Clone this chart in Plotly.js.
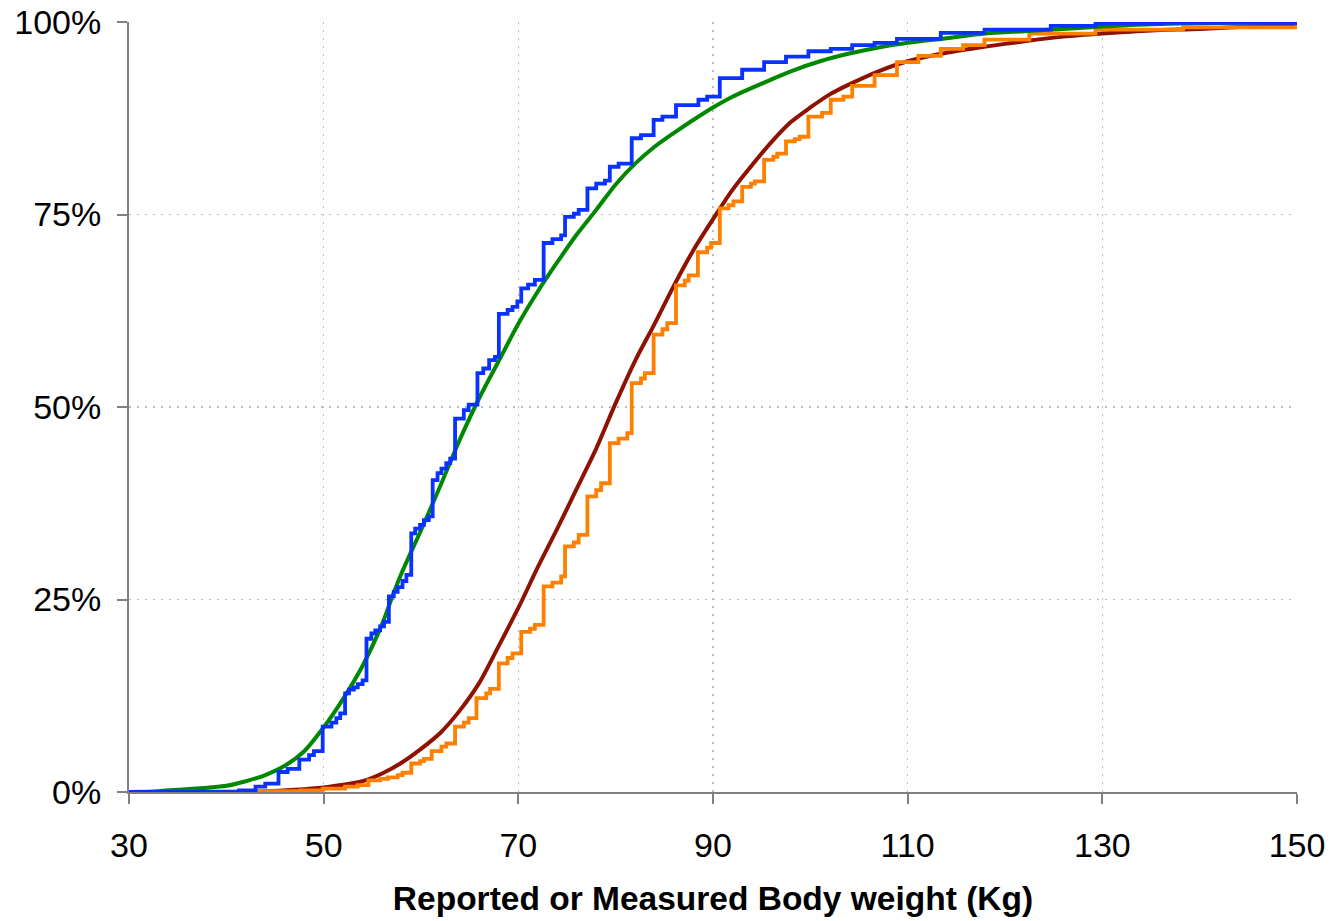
<!DOCTYPE html>
<html>
<head>
<meta charset="utf-8">
<script src="https://cdn.plot.ly/plotly-3.0.1.min.js"></script>
<style>html,body{margin:0;padding:0;background:#fff;}#chart{width:1332px;height:921px;}</style>
</head>
<body>
<div id="chart"></div>
<script>
// Female, measured (smooth, green)
const femaleMeasuredX = [30,33,35,38,40,42,44,46,48,50,52,54,56,57,58,60,62,64,66,68,70,72,74,76,78,80,82,84,86,88,90,92,95,98,101,104,107,110,114,118,122,126,130,135,140,150];
const femaleMeasuredY = [0,0.1,0.3,0.55,0.8,1.4,2.2,3.4,5.3,8.4,12.1,16.4,21.8,25.2,28.4,34.0,39.8,45.8,51.2,56.0,60.8,65.0,68.8,72.4,75.6,78.9,81.6,83.8,85.6,87.3,88.9,90.3,92.0,93.6,94.9,95.9,96.7,97.3,97.9,98.5,98.8,99.1,99.4,99.7,99.85,100];

// Female, reported (stepped, blue)
const femaleReportedX = [30,38,41.3,43.0,44.0,45.36,46.3,47.5,48.5,49.0,49.9,50.8,51.3,51.7,52.2,52.6,53.1,53.5,54.0,54.4,54.9,55.3,55.8,56.2,56.7,57.2,57.6,58.1,58.5,59.0,59.4,59.9,60.3,60.8,61.2,61.7,62.1,62.6,63.0,63.5,64.4,64.9,65.8,66.4,67.0,67.6,68.0,68.9,69.4,69.9,70.3,71.0,71.7,72.6,73.5,74.4,74.8,75.7,76.2,77.1,78.0,78.9,79.4,80.3,81.65,82.6,83.9,84.8,86.2,88.5,89.4,90.7,93.0,95.25,97.5,99.8,102.1,104.3,106.6,108.9,113.4,117.9,124.7,129.3,136.1,150];
const femaleReportedY = [0,0.05,0.2,0.7,1.1,2.6,3.0,4.2,4.8,5.3,8.5,9.0,9.6,10.2,12.8,13.3,13.6,14.0,14.5,19.9,20.6,21.0,21.5,22.1,25.4,26.0,26.6,27.4,28.2,33.6,34.2,34.7,35.3,35.8,40.5,41.4,42.0,42.7,43.3,48.5,49.6,50.3,54.4,55.0,56.1,56.5,62.1,62.6,63.0,63.7,65.4,65.9,66.5,71.3,71.8,72.3,74.7,75.1,75.6,78.4,79.0,79.4,81.2,81.6,84.9,85.3,87.3,87.7,89.2,89.9,90.3,92.7,93.8,94.8,95.5,96.2,96.5,97.0,97.3,97.8,98.6,99.0,99.5,99.8,99.9,99.9];

// Male, measured (smooth, dark red)
const maleMeasuredX = [30,40,44,47,50,52,54,56,58,60,62,64,66,68,70,72,74,76,78,80,82,84,86,88,90,92,94,96,98,100,102,104,107,110,114,118,122,126,130,135,140,145,150];
const maleMeasuredY = [0,0,0.1,0.3,0.6,0.95,1.4,2.4,3.8,5.6,7.7,10.6,14.2,19.0,23.9,29.2,34.2,39.4,44.6,50.5,56.0,60.8,65.8,70.4,74.4,78.2,81.4,84.4,87.0,88.9,90.6,91.9,93.6,94.9,96.0,96.8,97.5,98.1,98.5,98.9,99.1,99.4,99.6];

// Male, reported (stepped, orange)
const maleReportedX = [30,43.1,47.6,49.9,52.2,53.5,54.6,55.8,56.6,57.6,58.1,59.0,59.9,60.3,61.1,62.1,62.6,63.5,64.4,64.9,65.7,66.7,67.1,68.0,68.9,69.4,70.3,71.2,71.7,72.6,73.5,74.4,74.8,75.7,76.2,77.1,78.0,78.5,79.4,80.3,81.2,81.65,82.6,83.0,83.9,84.8,85.3,86.2,87.1,87.5,88.45,89.4,89.8,90.7,91.6,92.1,93.0,93.9,94.3,95.25,96.2,96.6,97.5,98.4,98.9,99.8,101.2,102.1,103.4,104.3,106.6,108.9,111.1,113.4,115.7,117.9,122.5,129.3,138.3,150];
const maleReportedY = [0,0.1,0.2,0.45,0.7,0.9,1.5,1.7,1.9,2.2,2.5,3.7,4.0,4.3,5.3,5.9,6.3,8.5,9.0,9.6,12.2,12.8,13.4,16.7,17.4,18.0,20.8,21.2,21.7,26.7,27.2,28.0,31.9,32.4,33.4,38.4,39.2,40.1,45.3,45.9,46.6,53.1,53.7,54.4,59.4,60.1,60.9,65.8,66.4,67.1,70.1,70.7,71.3,75.8,76.2,76.7,78.6,79.0,79.3,82.1,82.5,82.9,84.5,84.8,85.1,87.7,88.2,89.9,90.3,91.7,93.1,94.8,95.6,96.5,97.0,97.7,98.5,99.0,99.3,99.6];

const xTicks = [30,50,70,90,110,130,150];
const yTicks = [0,25,50,75,100];
const yTickText = ['0%','25%','50%','75%','100%'];

const traces = [
  {x: maleMeasuredX, y: maleMeasuredY, mode: 'lines', line: {color: '#8f1200', width: 4, shape: 'spline', smoothing: 0.8}, name: 'Male measured'},
  {x: maleReportedX, y: maleReportedY, mode: 'lines', line: {color: '#ff8000', width: 3.8, shape: 'hv'}, name: 'Male reported'},
  {x: femaleMeasuredX, y: femaleMeasuredY, mode: 'lines', line: {color: '#008800', width: 4, shape: 'spline', smoothing: 0.8}, name: 'Female measured'},
  {x: femaleReportedX, y: femaleReportedY, mode: 'lines', line: {color: '#0a32ff', width: 3.8, shape: 'hv'}, name: 'Female reported'}
];

const font = 'Liberation Sans, Arial, sans-serif';
const axisCommon = {
  ticks: 'outside', ticklen: 10, tickwidth: 2, tickcolor: '#808080',
  showline: true, linecolor: '#808080', linewidth: 2,
  showgrid: true, gridcolor: '#bdbdbd', gridwidth: 1.5, griddash: '2px,6px',
  zeroline: false, tickfont: {family: font, size: 34, color: '#000'}
};

const layout = {
  width: 1332, height: 921,
  margin: {l: 129, r: 35, t: 22, b: 129},
  paper_bgcolor: '#fff', plot_bgcolor: '#fff',
  showlegend: false,
  xaxis: Object.assign({}, axisCommon, {
    range: [30, 150], tickmode: 'array', tickvals: xTicks, ticklabelstandoff: 12,
    title: {text: '<b>Reported or Measured Body weight (Kg)</b>', font: {family: font, size: 33.5, color: '#000'}, standoff: 24}
  }),
  yaxis: Object.assign({}, axisCommon, {
    range: [0, 100], tickmode: 'array', tickvals: yTicks, ticktext: yTickText, ticklabelstandoff: 9
  })
};

Plotly.newPlot('chart', traces, layout, {displayModeBar: false, staticPlot: true});
</script>
</body>
</html>
